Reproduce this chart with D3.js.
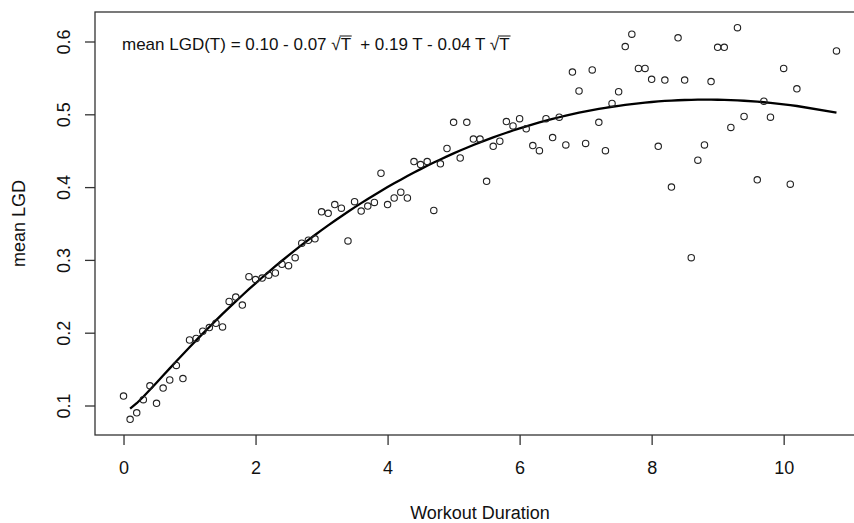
<!DOCTYPE html>
<html>
<head>
<meta charset="utf-8">
<script src="https://cdn.jsdelivr.net/npm/d3@7"></script>
<style>
  html, body { margin: 0; padding: 0; background: #fff; }
  svg { display: block; }
  text { font-family: "Liberation Sans", Arial, sans-serif; fill: #111; }
</style>
</head>
<body>
<svg id="chart" width="854" height="523"></svg>
<script>
// ---- data ----
const duration = [0, 0.1, 0.2, 0.3, 0.4, 0.5, 0.6, 0.7, 0.8, 0.9,
  1.0, 1.1, 1.2, 1.3, 1.4, 1.5, 1.6, 1.7, 1.8, 1.9,
  2.0, 2.1, 2.2, 2.3, 2.4, 2.5, 2.6, 2.7, 2.8, 2.9,
  3.0, 3.1, 3.2, 3.3, 3.4, 3.5, 3.6, 3.7, 3.8, 3.9,
  4.0, 4.1, 4.2, 4.3, 4.4, 4.5, 4.6, 4.7, 4.8, 4.9,
  5.0, 5.1, 5.2, 5.3, 5.4, 5.5, 5.6, 5.7, 5.8, 5.9,
  6.0, 6.1, 6.2, 6.3, 6.4, 6.5, 6.6, 6.7, 6.8, 6.9,
  7.0, 7.1, 7.2, 7.3, 7.4, 7.5, 7.6, 7.7, 7.8, 7.9,
  8.0, 8.1, 8.2, 8.3, 8.4, 8.5, 8.6, 8.7, 8.8, 8.9,
  9.0, 9.1, 9.2, 9.3, 9.4, 9.6, 9.7, 9.8, 10.0, 10.1, 10.2, 10.8];
const meanLGD = [0.113, 0.081, 0.090, 0.108, 0.127, 0.103, 0.124, 0.135, 0.155, 0.137,
  0.190, 0.192, 0.202, 0.207, 0.213, 0.208, 0.243, 0.249, 0.238, 0.277,
  0.273, 0.275, 0.279, 0.282, 0.294, 0.292, 0.303, 0.323, 0.327, 0.329,
  0.366, 0.364, 0.376, 0.371, 0.326, 0.380, 0.367, 0.374, 0.379, 0.419,
  0.376, 0.385, 0.393, 0.385, 0.435, 0.431, 0.435, 0.368, 0.432, 0.453,
  0.489, 0.440, 0.489, 0.466, 0.466, 0.408, 0.456, 0.463, 0.490, 0.484,
  0.494, 0.480, 0.457, 0.450, 0.494, 0.468, 0.496, 0.458, 0.558, 0.532,
  0.460, 0.561, 0.489, 0.450, 0.515, 0.531, 0.593, 0.610, 0.563, 0.563,
  0.548, 0.456, 0.547, 0.400, 0.605, 0.547, 0.303, 0.437, 0.458, 0.545,
  0.592, 0.592, 0.482, 0.619, 0.497, 0.410, 0.518, 0.496, 0.563, 0.404, 0.535, 0.587];
// fitted model coefficients printed on the chart: 1, sqrt(T), T, T*sqrt(T)
const coef = [0.10, -0.07, 0.19, -0.04];
const xTicks = [0, 2, 4, 6, 8, 10];
const yTicks = [0.1, 0.2, 0.3, 0.4, 0.5, 0.6];

// ---- layout ----
const plot = { left: 95, top: 12, right: 865, bottom: 435 };
const svg = d3.select("#chart");

function padded(ext) { const r = ext[1] - ext[0]; return [ext[0] - 0.04 * r, ext[1] + 0.04 * r]; }
const x = d3.scaleLinear().domain(padded(d3.extent(duration))).range([plot.left, plot.right]);
const y = d3.scaleLinear().domain(padded(d3.extent(meanLGD))).range([plot.bottom, plot.top]);

const axisColor = "#333";

// x axis
const gx = svg.append("g").attr("transform", `translate(0,${plot.bottom})`)
  .call(d3.axisBottom(x).tickValues(xTicks).tickSize(10).tickPadding(0).tickFormat(d3.format("d")));
gx.select(".domain").remove();
gx.selectAll(".tick line").attr("stroke", axisColor).attr("stroke-width", 1.3);
gx.selectAll(".tick text").attr("y", 39).attr("dy", 0).style("font-size", "18px").attr("fill", "#111");

// y axis
const gy = svg.append("g").attr("transform", `translate(${plot.left},0)`)
  .call(d3.axisLeft(y).tickValues(yTicks).tickSize(10).tickFormat(d3.format(".1f")));
gy.select(".domain").remove();
gy.selectAll(".tick line").attr("stroke", axisColor).attr("stroke-width", 1.3);
gy.selectAll(".tick text")
  .attr("transform", "rotate(-90)")
  .attr("x", 0).attr("y", -25).attr("dy", 0)
  .attr("text-anchor", "middle")
  .style("font-size", "18px").attr("fill", "#111");

// box
svg.append("rect")
  .attr("x", plot.left).attr("y", plot.top)
  .attr("width", plot.right - plot.left).attr("height", plot.bottom - plot.top)
  .attr("fill", "none").attr("stroke", axisColor).attr("stroke-width", 1.3);

// axis titles
svg.append("text").attr("x", (plot.left + plot.right) / 2).attr("y", 519)
  .attr("text-anchor", "middle").style("font-size", "18px").text("Workout Duration");
svg.append("text")
  .attr("transform", `translate(25,${(plot.top + plot.bottom) / 2}) rotate(-90)`)
  .attr("text-anchor", "middle").style("font-size", "18px").text("mean LGD");

// fitted curve
const fit = t => coef[0] + coef[1] * Math.sqrt(t) + coef[2] * t + coef[3] * t * Math.sqrt(t);
const curveT = duration.filter(t => t > 0);
svg.append("path")
  .datum(curveT)
  .attr("fill", "none").attr("stroke", "#000").attr("stroke-width", 2.3)
  .attr("stroke-linejoin", "round")
  .attr("d", d3.line().x(t => x(t)).y(t => y(fit(t))));

// points
svg.append("g").selectAll("circle")
  .data(duration.map((t, i) => [t, meanLGD[i]]))
  .join("circle")
  .attr("cx", d => x(d[0])).attr("cy", d => y(d[1])).attr("r", 3.2)
  .attr("fill", "none").attr("stroke", "#222").attr("stroke-width", 1.1);

// equation label
const eqY = 50;
const eq = svg.append("text").attr("x", 122).attr("y", eqY).style("font-size", "17px")
  .attr("xml:space", "preserve");
const parts = [
  { s: "mean LGD(T) = 0.10 - 0.07 " },
  { s: "\u221A" }, { s: "T", bar: true },
  { s: "  + 0.19 T - 0.04 T " },
  { s: "\u221A" }, { s: "T", bar: true }
];
const spans = parts.map(p => ({ p, node: eq.append("tspan").text(p.s).node() }));
spans.forEach(({ p, node }) => {
  if (p.bar) {
    const b = node.getBBox();
    svg.append("line")
      .attr("x1", b.x - 1).attr("x2", b.x + b.width + 1)
      .attr("y1", eqY - 14).attr("y2", eqY - 14)
      .attr("stroke", "#111").attr("stroke-width", 1);
  }
});
</script>
</body>
</html>
